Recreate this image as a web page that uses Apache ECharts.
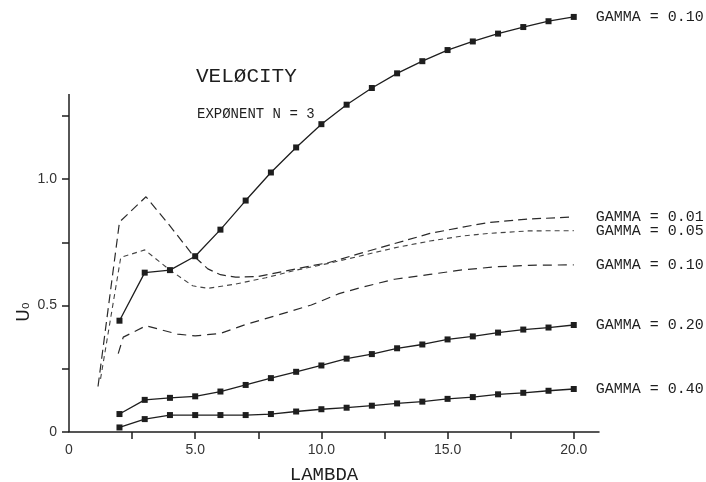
<!DOCTYPE html>
<html>
<head>
<meta charset="utf-8">
<script src="https://cdn.jsdelivr.net/npm/echarts@6/dist/echarts.min.js"></script>
<style>
  html, body { margin: 0; padding: 0; background: #ffffff; }
  #c { width: 706px; height: 482px; }
</style>
</head>
<body>
<div id="c"></div>
<script>
// ---- data ----
const lambdaSolid = [2, 3, 4, 5, 6, 7, 8, 9, 10, 11, 12, 13, 14, 15, 16, 17, 18, 19, 20];
const gamma010Solid = [0.44, 0.63, 0.64, 0.695, 0.80, 0.915, 1.026, 1.125, 1.217, 1.294, 1.36, 1.418, 1.466, 1.51, 1.544, 1.575, 1.601, 1.624, 1.641];
const gamma020Solid = [0.071, 0.127, 0.135, 0.141, 0.16, 0.186, 0.213, 0.238, 0.263, 0.29, 0.308, 0.331, 0.346, 0.366, 0.378, 0.393, 0.405, 0.413, 0.423];
const gamma040Solid = [0.018, 0.051, 0.067, 0.067, 0.067, 0.067, 0.071, 0.081, 0.09, 0.096, 0.104, 0.113, 0.12, 0.131, 0.138, 0.149, 0.155, 0.163, 0.17];

const gamma001Lambda = [1.15, 2.0, 3.05, 4.0, 4.9, 5.5, 6.0, 6.6, 7.5, 8.5, 9.5, 10.3, 11.5, 12.9, 14.3, 15.6, 16.6, 18.2, 20];
const gamma001Values = [0.18, 0.83, 0.93, 0.815, 0.70, 0.645, 0.622, 0.612, 0.615, 0.635, 0.655, 0.67, 0.705, 0.745, 0.785, 0.81, 0.828, 0.842, 0.85];

const gamma005Lambda = [1.25, 2.05, 3.0, 4.0, 4.9, 5.5, 6.6, 7.8, 9.0, 10.3, 11.5, 12.9, 14.3, 15.6, 16.6, 18.2, 20];
const gamma005Values = [0.21, 0.69, 0.72, 0.64, 0.578, 0.568, 0.585, 0.61, 0.64, 0.667, 0.695, 0.728, 0.755, 0.775, 0.785, 0.795, 0.796];

const gamma010Lambda = [1.95, 2.15, 3.05, 4.3, 5.0, 6.0, 7.0, 8.3, 9.6, 10.7, 11.6, 12.9, 14.3, 15.6, 16.9, 18.2, 20];
const gamma010Values = [0.31, 0.375, 0.42, 0.387, 0.38, 0.39, 0.425, 0.463, 0.502, 0.547, 0.572, 0.604, 0.623, 0.641, 0.653, 0.659, 0.661];

const xTickValues = [2.5, 5, 7.5, 10, 12.5, 15, 17.5, 20];
const xLabelValues = [0, 5, 10, 15, 20];
const yTickValues = [0, 0.25, 0.5, 0.75, 1.0, 1.25];
const yLabelValues = [0, 0.5, 1.0];
const yAxisLineTop = 1.336;

const labels = {
  g010s: 'GAMMA = 0.10',
  g020s: 'GAMMA = 0.20',
  g040s: 'GAMMA = 0.40',
  g001: 'GAMMA = 0.01',
  g005: 'GAMMA = 0.05',
  g010d: 'GAMMA = 0.10'
};

// ---- build ----
const zip = (xs, ys) => xs.map((x, i) => [x, ys[i]]);
const ink = '#1e1e1e';
const mono = '"Liberation Mono", "DejaVu Sans Mono", monospace';

function endLabel(text) {
  return {
    show: true,
    formatter: () => text,
    distance: 22,
    fontFamily: mono,
    fontSize: 15,
    color: ink
  };
}

function solidSeries(name, values, text, extra) {
  return Object.assign({
    name: name,
    type: 'line',
    data: zip(lambdaSolid, values),
    symbol: 'rect',
    symbolSize: 6,
    showSymbol: true,
    itemStyle: { color: ink },
    lineStyle: { color: ink, width: 1.3, type: 'solid' },
    endLabel: endLabel(text),
    silent: true,
    z: 5
  }, extra || {});
}

function dashedSeries(name, xs, ys, text, dash, color, width) {
  return {
    name: name,
    type: 'line',
    data: zip(xs, ys),
    symbol: 'none',
    lineStyle: { color: color, width: width, type: dash },
    endLabel: endLabel(text),
    silent: true,
    z: 4
  };
}

const chart = echarts.init(document.getElementById('c'), null, { renderer: 'canvas' });

chart.setOption({
  animation: false,
  backgroundColor: '#ffffff',
  title: [
    {
      text: 'VELØCITY',
      left: 191, top: 61,
      textStyle: { fontFamily: mono, fontSize: 21, fontWeight: 'normal', color: ink }
    },
    {
      text: 'EXPØNENT N = 3',
      left: 192, top: 102,
      textStyle: { fontFamily: mono, fontSize: 14, fontWeight: 'normal', color: ink }
    }
  ],
  grid: { left: 69, right: 107, top: 2, bottom: 50, containLabel: false, outerBoundsMode: 'none' },
  xAxis: {
    type: 'value',
    min: 0, max: 21,
    interval: 2.5,
    name: 'LAMBDA',
    nameLocation: 'middle',
    nameGap: 33,
    nameTextStyle: { fontFamily: mono, fontSize: 19, color: ink, padding: [0, 20, 0, 0] },
    axisLine: { show: true, onZero: false, lineStyle: { color: ink, width: 1.5 } },
    axisTick: { show: true, inside: false, length: 7, customValues: xTickValues, lineStyle: { color: ink, width: 1.5 } },
    axisLabel: {
      customValues: xLabelValues,
      margin: 11,
      fontFamily: '"Liberation Sans", Arial, sans-serif',
      fontSize: 14,
      color: '#333',
      formatter: v => (v === 0 ? '0' : v.toFixed(1))
    },
    splitLine: { show: false }
  },
  yAxis: {
    type: 'value',
    min: 0, max: 1.7,
    interval: 0.25,
    axisLine: { show: false },
    axisTick: { show: true, inside: false, length: 7, customValues: yTickValues, lineStyle: { color: ink, width: 1.5 } },
    axisLabel: {
      customValues: yLabelValues,
      margin: 12,
      fontFamily: '"Liberation Sans", Arial, sans-serif',
      fontSize: 14,
      color: '#333',
      formatter: v => (v === 0 ? '0' : v.toFixed(1))
    },
    splitLine: { show: false }
  },
  graphic: [
    {
      type: 'text',
      x: 25, y: 312,
      rotation: Math.PI / 2,
      style: {
        text: 'U₀',
        fontFamily: '"DejaVu Sans", sans-serif',
        fontSize: 17,
        fill: ink,
        align: 'center',
        verticalAlign: 'middle'
      }
    }
  ],
  series: [
    solidSeries('g010s', gamma010Solid, labels.g010s),
    solidSeries('g020s', gamma020Solid, labels.g020s, {
      markLine: {
        silent: true,
        symbol: ['none', 'none'],
        label: { show: false },
        lineStyle: { color: ink, width: 1.5, type: 'solid' },
        emphasis: { disabled: true },
        data: [[{ coord: [0, 0] }, { coord: [0, yAxisLineTop] }]]
      }
    }),
    solidSeries('g040s', gamma040Solid, labels.g040s),
    dashedSeries('g001', gamma001Lambda, gamma001Values, labels.g001, [9, 5], '#2a2a2a', 1.2),
    dashedSeries('g005', gamma005Lambda, gamma005Values, labels.g005, [5, 4], '#444', 1.1),
    dashedSeries('g010d', gamma010Lambda, gamma010Values, labels.g010d, [9, 6], '#2a2a2a', 1.2)
  ]
});
</script>
</body>
</html>
